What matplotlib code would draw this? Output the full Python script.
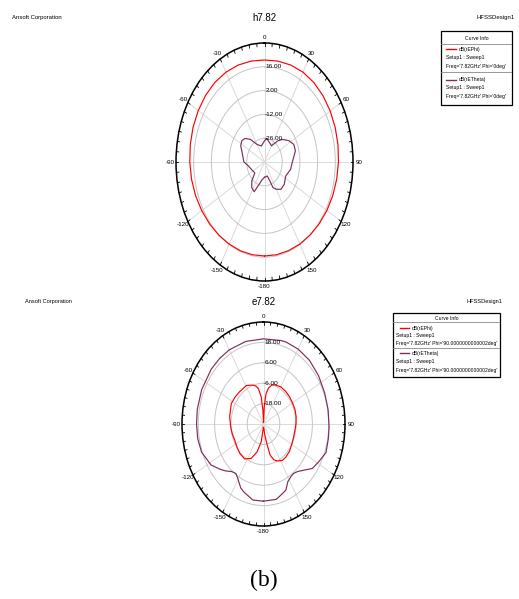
import numpy as np
import matplotlib.pyplot as plt
from matplotlib.patches import Rectangle
from matplotlib.lines import Line2D

plt.rcParams['font.family'] = ['Liberation Sans', 'DejaVu Sans']

W, H = 519, 599

# h7.82 : Phi = 0deg
h_phi_ang = [-180, -170, -160, -150, -140, -130, -120, -110, -100, -90, -80, -70, -60,
             -50, -40, -30, -20, -10, 0, 10, 20, 30, 40, 50, 60, 70, 80, 90, 100,
             110, 120, 130, 140, 150, 160, 170, 180]
h_phi_db = [15.3, 15.4, 15.6, 15.8, 16.2, 16.7, 17.3, 18.0, 18.6, 19.1, 19.6, 20.1, 20.5,
            20.9, 21.1, 21.0, 20.7, 20.3, 20.0, 20.3, 20.7, 21.0, 20.9, 20.5, 20.0, 19.5, 19.0, 18.5, 18.0,
            17.5, 17.0, 16.5, 16.1, 15.8, 15.5, 15.4, 15.3]
h_theta_ang = [-180, -170, -160, -155, -146, -138, -130, -115, -100, -90, -75, -63, -55,
               -48, -40, -30, -15, 0, 7, 20, 30, 40, 47, 57, 66, 75, 82, 91, 102,
               116, 130, 141, 150, 156, 159, 165, 180]
h_theta_db = [-31.0, -29.5, -25.0, -20.7, -21.9, -25.0, -30.0, -29.0, -27.0, -23.7, -21.9, -18.9, -18.1,
              -19.3, -22.6, -28.0, -30.3, -27.5, -26.0, -28.0, -29.0, -23.8, -20.5, -17.0, -14.6, -14.7, -16.5, -18.1, -18.9,
              -21.3, -19.6, -19.3, -21.5, -23.5, -28.0, -31.5, -31.0]

# e7.82 : Phi = 90deg
e_phi_ang = [-177, -171, -164, -156, -146, -135, -125, -114, -104, -94, -80, -63, -52,
             -43, -29, -19, -14, -10, -6, -3, 0, 3, 6, 10, 15, 20, 30, 40, 50, 60,
             70, 80, 90, 100, 110, 120, 130, 140, 147, 155, 160, 165, 168, 172, 177, 183]
e_phi_db = [-28.0, -19.5, -13.0, -7.9, -5.2, -5.4, -6.2, -6.8, -6.3, -5.8, -4.7, -3.4, -3.8,
            -4.1, -4.1, -5.8, -7.0, -9.0, -14.0, -22.0, -29.0, -20.0, -12.0, -8.5, -6.3, -5.5, -4.7, -4.8, -5.0, -5.3,
            -5.3, -5.6, -6.1, -6.6, -6.5, -6.0, -5.0, -4.5, -4.5, -6.0, -7.5, -11.0, -18.0, -24.0, -28.0, -28.0]
e_theta_ang = [-180, -170, -160, -156, -150, -145, -140, -135, -130, -122, -110, -100, -90,
               -80, -66, -50, -40, -30, -15, 0, 15, 19, 30, 42, 55, 68, 80, 92, 100,
               110, 118, 126, 132, 138, 143, 147, 152, 157, 161, 168, 180]
e_theta_db = [15.4, 15.4, 12.5, 11.2, 7.5, 5.5, 6.5, 9.1, 11.5, 15.5, 18.5, 19.2, 19.3,
              19.5, 19.8, 20.2, 20.3, 20.4, 20.3, 20.1, 20.8, 21.0, 20.9, 20.5, 19.5, 18.6, 18.3, 18.3, 18.5,
              19.0, 16.5, 14.5, 10.5, 7.6, 6.5, 7.0, 8.3, 12.2, 13.2, 15.3, 15.4]

theta_ticks = [0, 30, 60, 90, 120, 150, 180, 210, 240, 270, 300, 330]
theta_labels = ['0', '30', '60', '90', '120', '150', '-180', '-150', '-120', '-90', '-60', '-30']
h_rings = [-26, -12, 2, 16]
e_rings = [-18, -6, 6, 18]

RED = '#ff0000'
PURPLE = '#7d2d5c'


def px_box(x0, y0, x1, y1):
    return [x0 / W, 1 - y1 / H, (x1 - x0) / W, (y1 - y0) / H]


def polar_panel(fig, box, rmin, rmax, rings, curves):
    ax = fig.add_axes(px_box(*box), projection='polar')
    ax.set_aspect('auto')
    ax.set_theta_zero_location('N')
    ax.set_theta_direction(-1)
    ax.set_rlim(rmin, rmax)
    ax.set_yticks(rings)
    ax.set_yticklabels([])
    ax.set_xticks(np.deg2rad(theta_ticks))
    ax.set_xticklabels(theta_labels, fontsize=4.5)
    ax.tick_params(axis='x', which='both', length=0, pad=-2.8)
    ax.xaxis.grid(color='#dadada', lw=0.7)
    ax.yaxis.grid(color='#c4c4c4', lw=0.7)
    ax.spines['polar'].set_linewidth(1.1)
    # small inward ticks every 5 degrees on the rim
    tick_len = (rmax - rmin) * 0.028
    for a in np.deg2rad(np.arange(0, 360, 5)):
        ax.plot([a, a], [rmax - tick_len, rmax], color='black', lw=0.6, clip_on=False)
    for r in rings:
        ax.text(np.deg2rad(1), r, f'{r:.2f}', fontsize=4.6, ha='left', va='center')
    for ang, db, c in curves:
        ax.plot(np.deg2rad(ang), db, color=c, lw=0.85)
    ax.set_rlim(rmin, rmax)
    return ax


def curve_info(fig, box, rows, entries):
    x0, y0, x1, y1 = box
    ax = fig.add_axes(px_box(*box))
    ax.set_xlim(x0, x1)
    ax.set_ylim(y1, y0)
    ax.axis('off')
    ax.add_patch(Rectangle((x0, y0), x1 - x0, y1 - y0, fill=False, ec='black', lw=0.9, clip_on=False))
    fs = 3.6
    ax.text((x0 + x1) / 2, y0 + rows['head'], 'Curve Info', fontsize=fs, ha='center', va='center')
    for sep in rows['seps']:
        ax.plot([x0, x1], [y0 + sep, y0 + sep], color='#888888', lw=0.6)
    for (name, color, freq), ys in zip(entries, rows['entries']):
        ax.add_line(Line2D([x0 + rows['lx'][0], x0 + rows['lx'][1]], [y0 + ys[0]] * 2, color=color, lw=1.0))
        ax.text(x0 + rows['tx'], y0 + ys[0], name, fontsize=fs, va='center')
        ax.text(x0 + rows['sx'], y0 + ys[1], 'Setup1 : Sweep1', fontsize=fs, va='center')
        ax.text(x0 + rows['sx'], y0 + ys[2], freq, fontsize=fs, va='center')


fig = plt.figure(figsize=(W / 100, H / 100), dpi=100)

# header texts
fig.text(12 / W, 1 - 18 / H, 'Ansoft Corporation', fontsize=4.3, va='center')
fig.text(264 / W, 1 - 18 / H, 'h7.82', fontsize=7, ha='center', va='center')
fig.text(515 / W, 1 - 18 / H, 'HFSSDesign1', fontsize=4.3, ha='right', va='center')
fig.text(25 / W, 1 - 301 / H, 'Ansoft Corporation', fontsize=4.1, va='center')
fig.text(264 / W, 1 - 302 / H, 'e7.82', fontsize=7, ha='center', va='center')
fig.text(502 / W, 1 - 301 / H, 'HFSSDesign1', fontsize=4.1, ha='right', va='center')

polar_panel(fig, (176, 43, 353, 281), -40, 30, h_rings,
            [(h_phi_ang, h_phi_db, RED), (h_theta_ang, h_theta_db, PURPLE)])
polar_panel(fig, (182, 322, 345, 526), -30, 30, e_rings,
            [(e_phi_ang, e_phi_db, RED), (e_theta_ang, e_theta_db, PURPLE)])

curve_info(fig, (441, 31, 512, 105),
           {'head': 7, 'seps': [12.5, 41.3], 'lx': (5, 15), 'tx': 18, 'sx': 5,
            'entries': [(18, 26.3, 35.3), (48.7, 56.7, 65.7)]},
           [('dB(rEPhi)', RED, "Freq='7.82GHz' Phi='0deg'"),
            ('dB(rETheta)', PURPLE, "Freq='7.82GHz' Phi='0deg'")])
curve_info(fig, (393, 313, 500, 377),
           {'head': 5.3, 'seps': [8.7, 35.3], 'lx': (7, 16), 'tx': 18.7, 'sx': 3,
            'entries': [(15.3, 22.7, 30.3), (40.3, 48.7, 57.7)]},
           [('dB(rEPhi)', RED, "Freq='7.82GHz' Phi='90.0000000000002deg'"),
            ('dB(rETheta)', PURPLE, "Freq='7.82GHz' Phi='90.0000000000002deg'")])

fig.text(264 / W, 1 - 580 / H, '(b)', fontsize=17, ha='center', va='center',
         family=['Liberation Serif', 'DejaVu Serif'])

fig.savefig('out.png', dpi=100)
